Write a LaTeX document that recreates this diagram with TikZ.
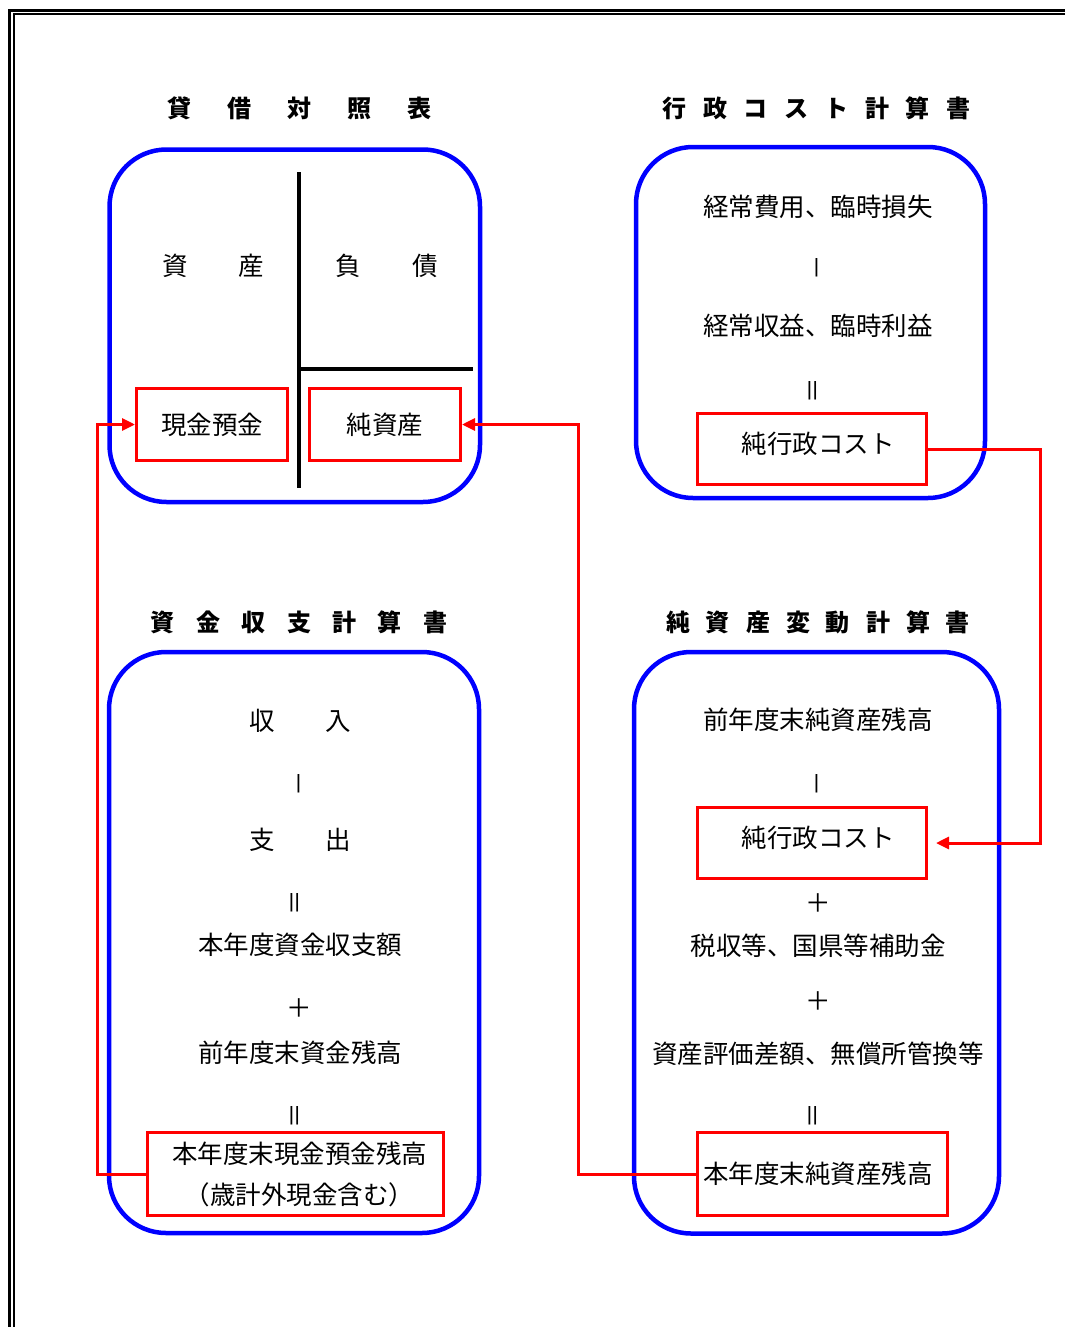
\documentclass[tikz,border=0pt]{standalone}
\usepackage{fontspec}
\setmainfont{Noto Sans CJK JP}
\usetikzlibrary{arrows.meta}
\begin{document}
\begin{tikzpicture}[x=1pt,y=-1pt,
  panel/.style={draw=blue, line width=4.5pt, rounded corners=57pt, inner sep=0pt},
  ttl/.style={font=\fontsize{24}{28}\selectfont\bfseries, inner sep=0pt},
  txt/.style={font=\fontsize{25.5}{30}\selectfont, inner sep=0pt},
  sym/.style={txt, xshift=5pt, rotate=90},
  redbox/.style={draw=red, line width=3pt, inner sep=0pt, align=center,
    font=\fontsize{25.5}{41}\selectfont},
  redline/.style={draw=red, line width=3pt},
  redarrow/.style={redline, -{Triangle[length=13pt,width=12pt]}},
  divider/.style={draw=black, line width=4.5pt},
  frameouter/.style={draw=black, line width=3pt},
  frameinner/.style={draw=black, line width=2pt}
]
\useasboundingbox (0,0) rectangle (1065,1327);

% page frame
\draw[frameouter] (1065,10.5) -- (9.5,10.5) -- (9.5,1327);
\draw[frameinner] (1065,14.5) -- (14,14.5) -- (14,1327);

% titles
\node[ttl] (t1) at (299.5,108) {貸\kern36pt 借\kern36pt 対\kern36pt 照\kern36pt 表};
\node[ttl] (t2) at (816.5,108) {行\kern16.5pt 政\kern16.5pt コ\kern16.5pt ス\kern16.5pt ト\kern16.5pt 計\kern16.5pt 算\kern16.5pt 書};
\node[ttl] (t3) at (299,622) {資\kern21.4pt 金\kern21.4pt 収\kern21.4pt 支\kern21.4pt 計\kern21.4pt 算\kern21.4pt 書};
\node[ttl] (t4) at (818,622) {純\kern16pt 資\kern16pt 産\kern16pt 変\kern16pt 動\kern16pt 計\kern16pt 算\kern16pt 書};

% panels
\node[panel, minimum width=370.5pt, minimum height=352.5pt] (p1) at (294.75,325.75) {};
\node[panel, minimum width=349pt, minimum height=351pt] (p2) at (810.5,322.5) {};
\node[panel, minimum width=370pt, minimum height=581pt] (p3) at (294,942.5) {};
\node[panel, minimum width=365pt, minimum height=581.5pt] (p4) at (816.5,942.75) {};

% balance sheet
\draw[divider] (299,172) -- (299,488);
\draw[divider] (299,369) -- (473,369);
\node[txt] (a1) at (213,266) {資　　産};
\node[txt] (a2) at (386.5,266) {負　　債};
\node[redbox, minimum width=151pt, minimum height=72pt] (genkin) at (212,424.5) {現金預金};
\node[redbox, minimum width=151pt, minimum height=72pt] (junshisan) at (385,424.5) {純資産};

% administrative cost statement
\node[txt] (b1) at (818,207) {経常費用、臨時損失};
\node[sym] (b2) at (816,268) {－};
\node[txt] (b3) at (818,326) {経常収益、臨時利益};
\node[sym] (b4) at (811,391) {＝};
\node[redbox, minimum width=229pt, minimum height=71pt, text height=20pt, text depth=10.6pt] (cost1) at (812,449) {\hspace*{12pt}純行政コスト};

% cash flow statement
\node[txt] (c1) at (300,721) {収　　入};
\node[sym] (c2) at (298,784) {－};
\node[txt] (c3) at (300,840) {支　　出};
\node[sym] (c4) at (293,903) {＝};
\node[txt] (c5) at (300,945) {本年度資金収支額};
\node[txt] (c6) at (299,1008) {＋};
\node[txt] (c7) at (300,1053) {前年度末資金残高};
\node[sym] (c8) at (293,1116) {＝};
\node[redbox, minimum width=296pt, minimum height=83pt] (cashend) at (295.5,1174) {\hspace*{8pt}本年度末現金預金残高\\\hspace*{8pt}（歳計外現金含む）};

% net assets statement
\node[txt] (d1) at (818,720) {前年度末純資産残高};
\node[sym] (d2) at (816,784) {－};
\node[redbox, minimum width=229pt, minimum height=71pt, text height=20pt, text depth=10.6pt] (cost2) at (812,843) {\hspace*{12pt}純行政コスト};
\node[txt] (d3) at (818,903) {＋};
\node[txt] (d4) at (818,946) {税収等、国県等補助金};
\node[txt] (d5) at (818,1001) {＋};
\node[txt] (d6) at (818,1054) {資産評価差額、無償所管換等};
\node[sym] (d7) at (811,1116) {＝};
\node[redbox, minimum width=250pt, minimum height=83pt] (netend) at (822.5,1174) {本年度末純資産残高\hspace*{9pt}};

% connectors
\coordinate (cx1) at (97,0);
\coordinate (cx2) at (578,0);
\coordinate (cx3) at (1040,0);
\draw[redarrow] (cashend.west) -- (cashend.west -| cx1) |- (genkin.west);
\draw[redarrow] (netend.west) -- (netend.west -| cx2) |- (junshisan.east);
\draw[redarrow, shorten >=8pt] (cost1.east) -- (cost1.east -| cx3) |- (cost2.east);
\end{tikzpicture}
\end{document}
